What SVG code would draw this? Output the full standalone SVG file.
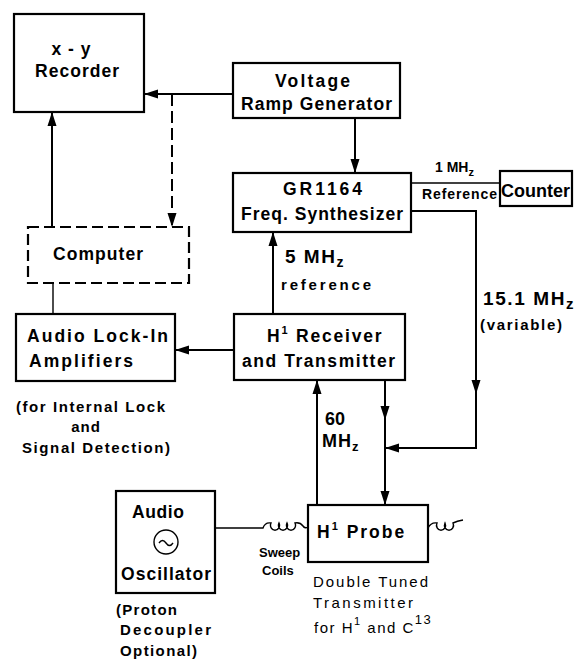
<svg xmlns="http://www.w3.org/2000/svg" width="575" height="659" viewBox="0 0 575 659">
<style>
.box{fill:none;stroke:#000;stroke-width:2.2}
.dbox{fill:none;stroke:#000;stroke-width:2.2;stroke-dasharray:11 5}
.ln{fill:none;stroke:#000;stroke-width:2}
.thin{fill:none;stroke:#000;stroke-width:1.4}
.dash{fill:none;stroke:#000;stroke-width:2;stroke-dasharray:12 5}
text{font-family:"Liberation Sans",Arial,sans-serif;font-weight:bold;fill:#000}
.t{font-size:17.5px}
.m{text-anchor:middle}
.s{font-size:14px}
.p{font-size:15px}
.n{font-weight:normal}
</style>
<defs>
<marker id="ah" markerWidth="14" markerHeight="10" refX="13" refY="5" orient="auto" markerUnits="userSpaceOnUse">
<path d="M0,0.5 L14,5 L0,9.5 Z" fill="#000"/>
</marker>
</defs>
<g id="recorder">
<rect class="box" x="14" y="14" width="130" height="98"/>
<text class="t m" x="71" y="55" textLength="39" lengthAdjust="spacing">x - y</text>
<text class="t m" x="77" y="77" textLength="84" lengthAdjust="spacing">Recorder</text>
</g>
<g id="ramp">
<rect class="box" x="233" y="63" width="167" height="55"/>
<text class="t m" x="312.5" y="87" textLength="75" lengthAdjust="spacing">Voltage</text>
<text class="t m" x="316.5" y="110" textLength="151" lengthAdjust="spacing">Ramp Generator</text>
</g>
<g id="synth">
<rect class="box" x="233" y="173" width="178" height="59"/>
<text class="t m" x="322.5" y="195" textLength="79" lengthAdjust="spacing">GR1164</text>
<text class="t m" x="322" y="220" textLength="162" lengthAdjust="spacing">Freq. Synthesizer</text>
</g>
<g id="counter">
<rect class="box" x="500" y="171" width="72" height="35"/>
<text class="t m" x="535.5" y="197" textLength="69" lengthAdjust="spacingAndGlyphs">Counter</text>
</g>
<g id="computer">
<rect class="dbox" x="28" y="227" width="161" height="56"/>
<text class="t m" x="98" y="260" textLength="90" lengthAdjust="spacing">Computer</text>
</g>
<g id="lockin">
<rect class="box" x="16" y="314" width="159" height="67"/>
<text class="t" x="27" y="342" textLength="141" lengthAdjust="spacing">Audio Lock-In</text>
<text class="t" x="29" y="367" textLength="104" lengthAdjust="spacing">Amplifiers</text>
</g>
<g id="receiver">
<rect class="box" x="234" y="314" width="171" height="66"/>
<text class="t" x="267" y="342" style="letter-spacing:1.8px">H<tspan dy="-8" font-size="11">1</tspan><tspan dy="8"> Receiver</tspan></text>
<text class="t m" x="318.5" y="367" textLength="153" lengthAdjust="spacing">and Transmitter</text>
</g>
<g id="probe">
<rect class="box" x="308" y="505" width="120" height="57"/>
<text class="t" x="317" y="538" style="letter-spacing:2px">H<tspan dy="-8" font-size="11">1</tspan><tspan dy="8">  Probe</tspan></text>
</g>
<g id="oscillator">
<rect class="box" x="116" y="491" width="99" height="102"/>
<text class="t m" x="158" y="518" textLength="52" lengthAdjust="spacing">Audio</text>
<circle class="thin" cx="166" cy="542" r="12"/>
<path class="thin" d="M159,543 q3.5,-5 7,0 q3.5,5 7,0"/>
<text class="t m" x="166" y="580" textLength="90" lengthAdjust="spacing">Oscillator</text>
</g>
<g id="labels">
<text class="s" x="435" y="172">1 MH<tspan dy="4" font-size="11">z</tspan></text>
<text class="s" x="422" y="199" textLength="75" lengthAdjust="spacing">Reference</text>
<text x="285" y="263" style="font-size:19px;letter-spacing:1.5px">5 MH<tspan dy="4" font-size="14">z</tspan></text>
<text class="p" x="281" y="290" textLength="90" lengthAdjust="spacing">reference</text>
<text x="483" y="305" style="font-size:19px;letter-spacing:1.6px">15.1 MH<tspan dy="4" font-size="15">z</tspan></text>
<text class="p" x="480" y="330" textLength="82" lengthAdjust="spacing">(variable)</text>
<text class="t" x="325" y="425" style="font-size:18px">60</text>
<text class="t" x="322" y="447" style="font-size:18px;letter-spacing:1px">MH<tspan dy="4" font-size="13">z</tspan></text>
<text class="p" x="16" y="412" textLength="149" lengthAdjust="spacing">(for Internal Lock</text>
<text class="p m" x="86" y="432" style="letter-spacing:1px">and</text>
<text class="p" x="22" y="453" textLength="148" lengthAdjust="spacing">Signal Detection)</text>
<text class="s" x="259" y="557" style="font-size:13px">Sweep</text>
<text class="s" x="262" y="575" style="font-size:13px">Coils</text>
<text class="n p" x="313" y="587" textLength="115" lengthAdjust="spacing">Double Tuned</text>
<text class="n p" x="313" y="608" textLength="100" lengthAdjust="spacing">Transmitter</text>
<text class="n p" x="314" y="633" style="letter-spacing:1.5px">for H<tspan dy="-8" font-size="11">1</tspan><tspan dy="8"> and C</tspan><tspan dy="-9" font-size="13">13</tspan></text>
<text class="p" x="116" y="615" textLength="61" lengthAdjust="spacing">(Proton</text>
<text class="p" x="120" y="635" textLength="91" lengthAdjust="spacing">Decoupler</text>
<text class="p" x="120" y="656" textLength="77" lengthAdjust="spacing">Optional)</text>
</g>
<g id="connectors">
<path class="ln" d="M233,94 H145" marker-end="url(#ah)"/>
<path class="dash" d="M172,94 V226" marker-end="url(#ah)"/>
<path class="ln" d="M52,227 V113" marker-end="url(#ah)"/>
<path class="ln" d="M355,118 V172" marker-end="url(#ah)"/>
<path class="thin" d="M411,183 H500"/>
<path class="ln" d="M411,211 H476 V393" marker-end="url(#ah)"/>
<path class="ln" d="M476,390 V448 H386" marker-end="url(#ah)"/>
<path class="thin" d="M53,283 V314"/>
<path class="ln" d="M234,350 H176" marker-end="url(#ah)"/>
<path class="ln" d="M273,314 V233" marker-end="url(#ah)"/>
<path class="ln" d="M317,505 V381" marker-end="url(#ah)"/>
<path class="ln" d="M385,380 V419" marker-end="url(#ah)"/>
<path class="ln" d="M385,415 V504" marker-end="url(#ah)"/>
<path class="thin" d="M215,528 H263 Q265,522 271,523 A4.5,5 0 1,0 279,523 A4.5,5 0 1,0 287,523 A4.5,5 0 1,0 295,523 Q300,522 303,526 Q305,529 308,527"/>
<path class="thin" d="M428,528 Q431,522 437,523 A4.5,5 0 1,0 445,523 A4.5,5 0 1,0 453,523 Q457,521 463,520"/>
</g>
</svg>
